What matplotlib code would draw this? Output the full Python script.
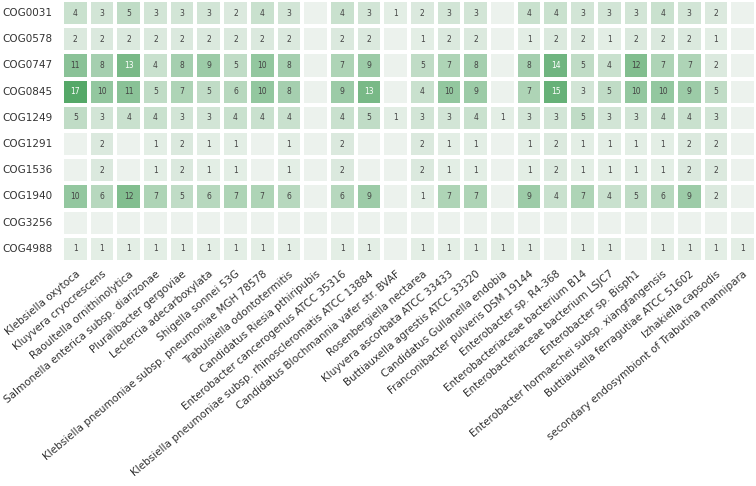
import numpy as np
import pandas as pd
import matplotlib
matplotlib.use("Agg")
import matplotlib.pyplot as plt
import seaborn as sns

cogs = ["COG0031", "COG0578", "COG0747", "COG0845", "COG1249",
        "COG1291", "COG1536", "COG1940", "COG3256", "COG4988"]

organisms = [
    "Klebsiella oxytoca",
    "Kluyvera cryocrescens",
    "Raoultella ornithinolytica",
    "Salmonella enterica subsp. diarizonae",
    "Pluralibacter gergoviae",
    "Leclercia adecarboxylata",
    "Shigella sonnei 53G",
    "Klebsiella pneumoniae subsp. pneumoniae MGH 78578",
    "Trabulsiella odontotermitis",
    "Candidatus Riesia pthiripubis",
    "Enterobacter cancerogenus ATCC 35316",
    "Klebsiella pneumoniae subsp. rhinoscleromatis ATCC 13884",
    "Candidatus Blochmannia vafer str. BVAF",
    "Rosenbergiella nectarea",
    "Kluyvera ascorbata ATCC 33433",
    "Buttiauxella agrestis ATCC 33320",
    "Candidatus Gullanella endobia",
    "Franconibacter pulveris DSM 19144",
    "Enterobacter sp. R4-368",
    "Enterobacteriaceae bacterium B14",
    "Enterobacteriaceae bacterium LSJC7",
    "Enterobacter sp. Bisph1",
    "Enterobacter hormaechei subsp. xiangfangensis",
    "Buttiauxella ferragutiae ATCC 51602",
    "Izhakiella capsodis",
    "secondary endosymbiont of Trabutina mannipara",
]

cog0031 = [4, 3, 5, 3, 3, 3, 2, 4, 3, 0, 4, 3, 1, 2, 3, 3, 0, 4, 4, 3, 3, 3, 4, 3, 2, 0]
cog0578 = [2, 2, 2, 2, 2, 2, 2, 2, 2, 0, 2, 2, 0, 1, 2, 2, 0, 1, 2, 2, 1, 2, 2, 2, 1, 0]
cog0747 = [11, 8, 13, 4, 8, 9, 5, 10, 8, 0, 7, 9, 0, 5, 7, 8, 0, 8, 14, 5, 4, 12, 7, 7, 2, 0]
cog0845 = [17, 10, 11, 5, 7, 5, 6, 10, 8, 0, 9, 13, 0, 4, 10, 9, 0, 7, 15, 3, 5, 10, 10, 9, 5, 0]
cog1249 = [5, 3, 4, 4, 3, 3, 4, 4, 4, 0, 4, 5, 1, 3, 3, 4, 1, 3, 3, 5, 3, 3, 4, 4, 3, 0]
cog1291 = [0, 2, 0, 1, 2, 1, 1, 0, 1, 0, 2, 0, 0, 2, 1, 1, 0, 1, 2, 1, 1, 1, 1, 2, 2, 0]
cog1536 = [0, 2, 0, 1, 2, 1, 1, 0, 1, 0, 2, 0, 0, 2, 1, 1, 0, 1, 2, 1, 1, 1, 1, 2, 2, 0]
cog1940 = [10, 6, 12, 7, 5, 6, 7, 7, 6, 0, 6, 9, 0, 1, 7, 7, 0, 9, 4, 7, 4, 5, 6, 9, 2, 0]
cog3256 = [0] * 26
cog4988 = [1, 1, 1, 1, 1, 1, 1, 1, 1, 0, 1, 1, 0, 1, 1, 1, 1, 1, 0, 1, 1, 0, 1, 1, 1, 1]

counts = pd.DataFrame([cog0031, cog0578, cog0747, cog0845, cog1249,
                       cog1291, cog1536, cog1940, cog3256, cog4988],
                      index=cogs, columns=organisms)

cmap = sns.light_palette("#55a868", as_cmap=True)

fig = plt.figure(figsize=(7.56, 4.86), dpi=100)
ax = fig.add_axes([0.082, 0.461, 0.918, 0.539])

sns.heatmap(counts, ax=ax, cmap=cmap, cbar=False, linewidths=1.5,
            linecolor="white", vmin=0, vmax=counts.values.max())

# numbers only where count > 0
for i in range(counts.shape[0]):
    for j in range(counts.shape[1]):
        v = counts.iat[i, j]
        if v > 0:
            ax.text(j + 0.5, i + 0.5, str(v), ha="center", va="center",
                    fontsize=5.5, color="white" if v >= 13 else "#444444")

ax.tick_params(length=0, pad=7)
ax.set_yticklabels(cogs, rotation=0, fontsize=7.5, color="#333333")
ax.set_xticklabels(organisms, rotation=40, ha="right", rotation_mode="anchor",
                   fontsize=7.5, color="#333333")
ax.tick_params(axis="x", pad=5)
ax.set_xlabel("")
ax.set_ylabel("")

fig.savefig("out.png", dpi=100)
